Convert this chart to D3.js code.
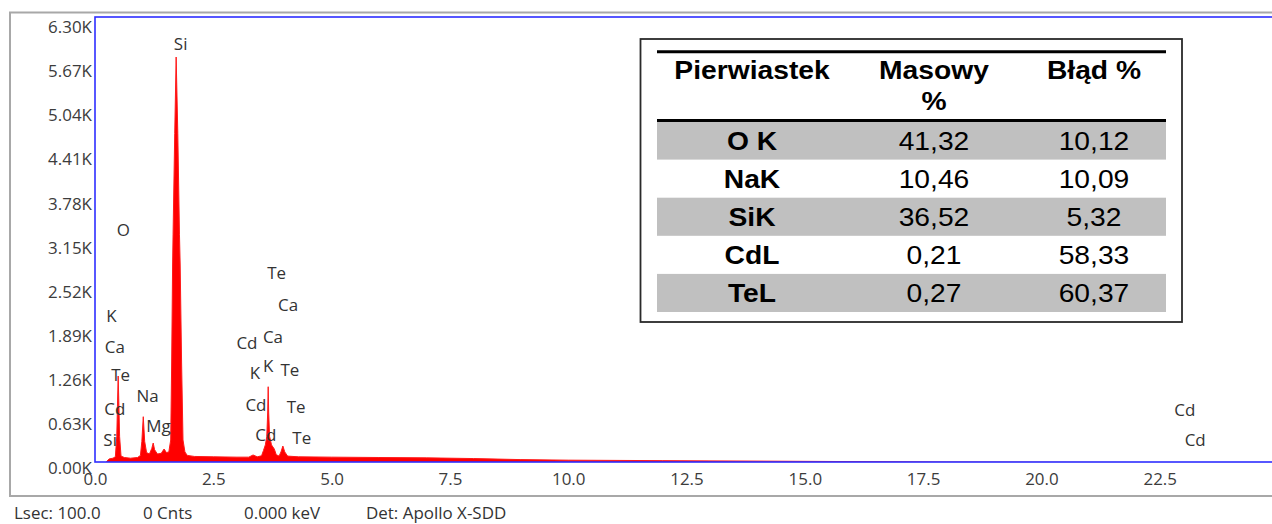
<!DOCTYPE html>
<html>
<head>
<meta charset="utf-8">
<script src="https://cdn.jsdelivr.net/npm/d3@7"></script>
<style>
  html, body { margin: 0; padding: 0; background: #fff; }
  svg { display: block; }
</style>
</head>
<body>
<svg id="chart" width="1272" height="524"></svg>
<script>
// ---------------- data ----------------
const energyKeV = [0.20,0.24,0.30,0.38,0.43,0.46,0.475,0.49,0.505,0.52,0.55,0.62,0.75,0.90,0.96,0.99,1.02,1.05,1.09,1.15,1.20,1.23,1.26,1.32,1.40,1.46,1.51,
  1.56,1.60,1.62,1.64,1.65,1.685,1.715,1.75,1.785,1.80,1.83,1.86,1.90,1.95,2.10,2.5,3.0,3.25,3.34,3.43,3.52,3.56,3.60,3.63,3.65,3.66,3.67,3.69,3.73,3.79,3.83,3.89,3.93,3.97,4.01,4.07,4.3,
  5.0,6.0,7.0,8.0,9.0,10.0,12.0,15.0,18.0,21.0,25.0];
const counts = [20,90,130,140,160,450,900,1314,900,450,170,150,140,150,180,380,733,380,220,200,280,357,260,200,210,271,220,
  230,400,1500,2900,3340,4780,5871,4780,3340,2900,1500,400,230,180,165,160,155,155,186,160,175,250,330,450,800,1161,800,450,330,270,190,170,230,314,230,170,160,
  155,150,145,135,120,112,105,95,85,80,75];

const yTickValues = [0,630,1260,1890,2520,3150,3780,4410,5040,5670,6300];
const yTickLabels = ["0.00K","0.63K","1.26K","1.89K","2.52K","3.15K","3.78K","4.41K","5.04K","5.67K","6.30K"];
const xTickValues = [0,2.5,5,7.5,10,12.5,15,17.5,20,22.5];
const xTickLabels = ["0.0","2.5","5.0","7.5","10.0","12.5","15.0","17.5","20.0","22.5"];

const peakText   = ["Si","O","K","Ca","Te","Cd","Si","Na","Mg","Te","Ca","Cd","Ca","K","K","Te","Cd","Te","Cd","Te","Cd","Cd"];
const peakKeV    = [1.81,0.60,0.35,0.42,0.54,0.42,0.32,1.11,1.34,3.84,4.08,3.21,3.76,3.38,3.66,4.12,3.40,4.25,3.61,4.37,23.03,23.25];
const peakCounts = [6053,3390,2161,1729,1329,843,400,1029,600,2781,2329,1781,1867,1353,1457,1400,900,867,471,424,819,390];

const statusTexts = ["Lsec: 100.0","0 Cnts","0.000 keV","Det: Apollo X-SDD"];

const tableHeader = ["Pierwiastek","Masowy","Błąd %"];
const tableElements = ["O K","NaK","SiK","CdL","TeL"];
const tableMass = ["41,32","10,46","36,52","0,21","0,27"];
const tableError = ["10,12","10,09","5,32","58,33","60,37"];

// ---------------- layout ----------------
const svg = d3.select("#chart");
const FONT = "'Open Sans', 'Noto Sans', sans-serif";
const FS = 16;
const SX = 1.06;   // horizontal stretch of the screenshot text
const TSX = 1.13;  // horizontal stretch of the table text

const x = d3.scaleLinear().domain([0, 25]).range([95, 1278]);
const y = d3.scaleLinear().domain([0, 6300]).range([468, 27]);

const frame = {left: 95, top: 17, right: 1300, bottom: 462};

// outer grey frame
svg.append("rect")
  .attr("x", 10).attr("y", 12.5).attr("width", 1300).attr("height", 483.5)
  .attr("fill", "none").attr("stroke", "#a8a8a8").attr("stroke-width", 2);

// clip for the plot
svg.append("defs").append("clipPath").attr("id", "plotclip")
  .append("rect").attr("x", frame.left).attr("y", frame.top)
  .attr("width", frame.right - frame.left).attr("height", frame.bottom - frame.top);

const spectrum = energyKeV.map((e, i) => ({e, c: counts[i]}));
const area = d3.area().x(d => x(d.e)).y0(y(0)).y1(d => y(d.c));
const line = d3.line().x(d => x(d.e)).y(d => y(d.c));

const plot = svg.append("g").attr("clip-path", "url(#plotclip)");
plot.append("path").datum(spectrum).attr("d", area).attr("fill", "#ff0000");
plot.append("path").datum(spectrum).attr("d", line)
  .attr("fill", "none").attr("stroke", "#ff1a1a").attr("stroke-width", 1);

// blue plot frame
svg.append("rect")
  .attr("x", frame.left).attr("y", frame.top)
  .attr("width", frame.right - frame.left).attr("height", frame.bottom - frame.top)
  .attr("fill", "none").attr("stroke", "#2e2eff").attr("stroke-width", 1.6);

// y axis labels
const yAxis = d3.axisLeft(y).tickValues(yTickValues)
  .tickFormat((d, i) => yTickLabels[i]).tickSize(0).tickPadding(0);
const gy = svg.append("g").attr("transform", "translate(92,0)").call(yAxis);
gy.select(".domain").remove();
gy.selectAll("text")
  .attr("font-family", FONT).attr("font-size", FS).attr("fill", "#3c3c3c")
  .attr("x", 0).attr("dy", "0.35em")
  .attr("transform", `scale(${SX},1)`);

// x axis labels
const xAxis = d3.axisBottom(x).tickValues(xTickValues)
  .tickFormat((d, i) => xTickLabels[i]).tickSize(0).tickPadding(0);
const gx = svg.append("g").attr("transform", "translate(0,479)").call(xAxis);
gx.select(".domain").remove();
gx.selectAll("text")
  .attr("font-family", FONT).attr("font-size", FS).attr("fill", "#3c3c3c")
  .attr("y", 0).attr("dy", "0.35em")
  .attr("transform", `scale(${SX},1)`);

// peak labels
svg.append("g").selectAll("text").data(peakText).join("text")
  .attr("transform", (d, i) => `translate(${x(peakKeV[i])},${y(peakCounts[i])}) scale(${SX},1)`)
  .attr("text-anchor", "middle").attr("dy", "0.35em")
  .attr("font-family", FONT).attr("font-size", FS).attr("fill", "#333")
  .text(d => d);

// status bar
const statusX = [14, 143, 244, 366];
svg.append("g").selectAll("text").data(statusTexts).join("text")
  .attr("transform", (d, i) => `translate(${statusX[i]},518.5) scale(${SX},1)`)
  .attr("font-family", FONT).attr("font-size", FS).attr("fill", "#333")
  .text(d => d);

// ---------------- table ----------------
const T = {left: 640.5, top: 39, right: 1182, bottom: 322, inL: 657, inR: 1166};
const colX = [752, 934, 1094];
const rowTop0 = 121.5, rowH = 38.1;
const tFont = "'Liberation Sans', Arial, sans-serif";
const tg = svg.append("g");

tg.append("rect").attr("x", T.left).attr("y", T.top)
  .attr("width", T.right - T.left).attr("height", T.bottom - T.top)
  .attr("fill", "#fff").attr("stroke", "#2a2a2a").attr("stroke-width", 1.8);

// shaded rows
tg.selectAll("rect.row").data(tableElements).join("rect").attr("class", "row")
  .attr("x", T.inL).attr("width", T.inR - T.inL)
  .attr("y", (d, i) => rowTop0 + i * rowH).attr("height", rowH)
  .attr("fill", (d, i) => i % 2 === 0 ? "#c0c0c0" : "none");

// thick rules
[51.7, 120.5].forEach(yy => {
  tg.append("line").attr("x1", T.inL).attr("x2", T.inR).attr("y1", yy).attr("y2", yy)
    .attr("stroke", "#000").attr("stroke-width", 3);
});

function tText(str, cx, by, bold) {
  tg.append("text")
    .attr("transform", `translate(${cx},${by}) scale(${TSX},1)`)
    .attr("text-anchor", "middle")
    .attr("font-family", tFont).attr("font-size", 25)
    .attr("font-weight", bold ? "bold" : "normal").attr("fill", "#000")
    .text(str);
}
tText(tableHeader[0], colX[0], 79, true);
tText(tableHeader[1], colX[1], 79, true);
tText("%", colX[1], 110, true);
tText(tableHeader[2], colX[2], 79, true);
tableElements.forEach((el, i) => {
  const by = rowTop0 + i * rowH + rowH / 2 + 9;
  tText(el, colX[0], by, true);
  tText(tableMass[i], colX[1], by, false);
  tText(tableError[i], colX[2], by, false);
});
</script>
</body>
</html>
